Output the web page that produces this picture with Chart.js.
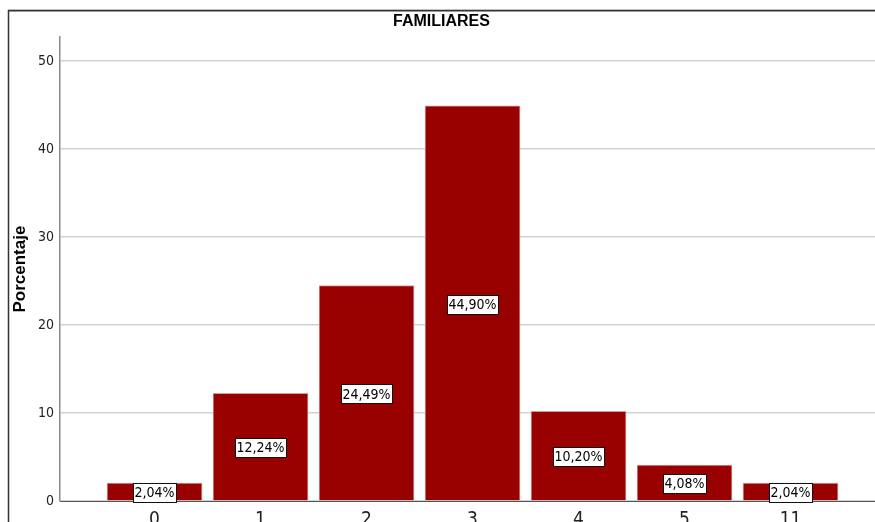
<!DOCTYPE html>
<html>
<head>
<meta charset="utf-8">
<script src="https://cdn.jsdelivr.net/npm/chart.js@4"></script>
<style>
  body { margin: 0; background: #fff; }
  canvas { display: block; }
</style>
</head>
<body>
<canvas id="famChart" width="875" height="522"></canvas>
<script>
const categories = ["0", "1", "2", "3", "4", "5", "11"];
const porcentajes = [2.04, 12.24, 24.49, 44.90, 10.20, 4.08, 2.04];
const yTicks = [0, 10, 20, 30, 40, 50];

const narrow = "'Liberation Sans Narrow', 'DejaVu Sans Condensed', Arial, sans-serif";

// marco exterior tipo SPSS
const framePlugin = {
    id: "frame",
    beforeDraw(chart) {
        const ctx = chart.ctx;
        ctx.save();
        ctx.strokeStyle = "#c0c0c0";
        ctx.lineWidth = 1;
        ctx.beginPath();
        ctx.moveTo(8, 9.5);
        ctx.lineTo(chart.width, 9.5);
        ctx.stroke();
        ctx.strokeStyle = "#333";
        ctx.lineWidth = 1.5;
        ctx.beginPath();
        ctx.moveTo(chart.width, 10.75);
        ctx.lineTo(8.5, 10.75);
        ctx.lineTo(8.5, chart.height);
        ctx.stroke();
        ctx.restore();
    }
};

// etiquetas con caja blanca en el centro de cada barra
const labelPlugin = {
    id: "boxLabels",
    afterDatasetsDraw(chart) {
        const ctx = chart.ctx;
        const meta = chart.getDatasetMeta(0);
        ctx.save();
        ctx.font = "14px " + narrow;
        ctx.textAlign = "center";
        ctx.textBaseline = "middle";
        meta.data.forEach(function (bar, i) {
            const txt = porcentajes[i].toFixed(2).replace(".", ",") + "%";
            const w = Math.round(ctx.measureText(txt).width + 3);
            const h = 19;
            const cx = bar.x;
            const cy = (bar.y + bar.base) / 2 + 1;
            const bx = Math.round(cx - w / 2) + 0.5;
            const by = Math.round(cy - h / 2) + 0.5;
            ctx.fillStyle = "#fff";
            ctx.fillRect(bx, by, w, h);
            ctx.strokeStyle = "#111";
            ctx.lineWidth = 1;
            ctx.strokeRect(bx, by, w, h);
            ctx.fillStyle = "#000";
            ctx.fillText(txt, cx, cy + 1);
        });
        ctx.restore();
    }
};

const ctx = document.getElementById("famChart").getContext("2d");

new Chart(ctx, {
    type: "bar",
    data: {
        datasets: [{
            label: "Porcentaje",
            data: porcentajes.map(function (v, i) { return { x: i, y: v }; }),
            backgroundColor: "#990000",
            borderColor: "#d89a9a",
            borderWidth: 1,
            barThickness: 95
        }]
    },
    options: {
        responsive: false,
        animation: false,
        layout: { padding: { left: 8, top: 10, right: 0, bottom: 0 } },
        plugins: {
            legend: { display: false },
            tooltip: { enabled: false },
            title: {
                display: true,
                text: "FAMILIARES",
                color: "#000",
                font: { family: "Arial, 'Liberation Sans', sans-serif", size: 16, weight: "bold" },
                padding: { top: 2, bottom: 6 }
            }
        },
        scales: {
            x: {
                type: "linear",
                offset: false,
                min: -0.892,
                max: 6.797,
                afterBuildTicks: function (scale) {
                    scale.ticks = categories.map(function (c, i) { return { value: i }; });
                },
                afterFit: function (scale) { scale.height = 21; },
                grid: { display: false, drawTicks: false, offset: false },
                border: { display: true, color: "#555", width: 1 },
                ticks: {
                    padding: 8,
                    color: "#222",
                    font: { family: narrow, size: 19 },
                    callback: function (v) { return categories[v]; }
                }
            },
            y: {
                min: 0,
                max: 52.7,
                afterBuildTicks: function (scale) {
                    scale.ticks = yTicks.map(function (t) { return { value: t }; });
                },
                afterFit: function (scale) { scale.width = 52; },
                grid: { color: "#d2d2d2", lineWidth: 1.5, drawTicks: false },
                border: { display: true, color: "#8a8a8a", width: 1.5 },
                ticks: {
                    padding: 6,
                    color: "#222",
                    font: { family: narrow, size: 14 }
                },
                title: {
                    display: true,
                    text: "Porcentaje",
                    color: "#000",
                    font: { family: "Arial, 'Liberation Sans', sans-serif", size: 17, weight: "bold" },
                    padding: { top: 2, bottom: 0 }
                }
            }
        }
    },
    plugins: [framePlugin, labelPlugin]
});
</script>
</body>
</html>
